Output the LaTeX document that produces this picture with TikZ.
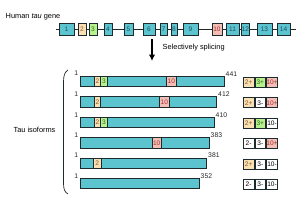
\documentclass[tikz,border=0pt]{standalone}
\usepackage{fontspec}
\setmainfont{Liberation Sans}
\usetikzlibrary{arrows.meta}
\definecolor{teal1}{HTML}{5BC4CF}
\definecolor{beige1}{HTML}{F9E0B5}
\definecolor{green1}{HTML}{B7F28F}
\definecolor{pink1}{HTML}{F4BDB5}
\definecolor{edge1}{HTML}{1E2B2E}
\definecolor{tealtxt}{HTML}{1D4E63}
\definecolor{beigetxt}{HTML}{8A5A20}
\definecolor{greentxt}{HTML}{2C6A10}
\definecolor{pinktxt}{HTML}{A03030}
\newcommand\bx[7]{\node[#6, minimum width={(#4-#2)*0.03cm}, minimum height={(#5-#3)*0.03cm}] (#1) at ({(#2+#4)/2},{(#3+#5)/2}) {#7};}
\begin{document}
\begin{tikzpicture}[x=0.03cm,y=-0.03cm,
  box/.style={draw=edge1, line width=0.7pt, inner sep=0pt, outer sep=0pt, font=\fontsize{5.6}{5.6}\selectfont},
  exT/.style={box, fill=teal1, text=tealtxt},
  exB/.style={box, fill=beige1, text=beigetxt},
  exG/.style={box, fill=green1, text=greentxt},
  exP/.style={box, fill=pink1, text=pinktxt},
  exW/.style={box, fill=white, text=black},
  bar/.style={box, fill=teal1},
  lbl/.style={inner sep=0pt, font=\fontsize{6.3}{7}\selectfont},
  num/.style={inner sep=0pt, font=\fontsize{5.8}{6}\selectfont, text=black!85}
]
\useasboundingbox (0,0) rectangle (300,204);
% gene
\node[lbl, anchor=west] (title) at (5.5,16.5) {Human \textit{tau} gene};
\coordinate (gs) at (56,29);
\coordinate (ge) at (296,29);
\draw[line width=0.7pt, edge1] (gs) -- (ge);
\bx{g1}{59}{23}{74}{35}{exT}{1}
\bx{g2}{78}{23}{86}{35}{exB}{2}
\bx{g3}{89}{23}{97}{35}{exG}{3}
\bx{g4}{104}{23}{112}{35}{exT}{4}
\bx{g5}{124}{23}{133}{35}{exT}{5}
\bx{g6}{143}{23}{155}{35}{exT}{6}
\bx{g7}{160}{23}{167}{35}{exT}{7}
\bx{g8}{171}{23}{177}{35}{exT}{8}
\bx{g9}{183}{23}{198}{35}{exT}{9}
\bx{g10}{212}{23}{222}{35}{exP}{10}
\bx{g11}{226}{23}{239}{35}{exT}{11}
\bx{g12}{242}{23}{249}{35}{exT}{12}
\bx{g13}{257}{23}{272}{35}{exT}{13}
\bx{g14}{277}{23}{290}{35}{exT}{14}
% arrow
\coordinate (as) at (152,39);
\coordinate (ae) at (152,61);
\draw[line width=1.2pt, -{Latex[length=5.5pt,width=5.5pt]}] (as) -- (ae);
\node[lbl, anchor=west] (splice) at (162.5,48) {Selectively splicing};
% bracket
\draw[line width=0.6pt, edge1] (68,70) .. controls (64.5,72) and (63.5,76) .. (63.5,82) -- (63.5,183) .. controls (63.5,189) and (64.5,192) .. (68,194);
\node[lbl] (iso) at (34.5,130) {Tau isoforms};
% isoforms
% 1: 441
\bx{b1}{80.7}{76}{224}{86.5}{bar}{}
\bx{b1e2}{94}{76}{100.7}{86.5}{exB}{2}
\bx{b1e3}{100.7}{76}{107.3}{86.5}{exG}{3}
\bx{b1e10}{166.7}{76}{176}{86.5}{exP}{10}
\node[num, anchor=east] (s1) at (78.3,73.5) {1};
\node[num, anchor=west] (t1) at (225.5,74) {441};
% 2: 412
\bx{b2}{80.7}{96.7}{216.7}{107.2}{bar}{}
\bx{b2e2}{94}{96.7}{100.7}{107.2}{exB}{2}
\bx{b2e10}{159.3}{96.7}{169.3}{107.2}{exP}{10}
\node[num, anchor=east] (s2) at (78.3,94.2) {1};
\node[num, anchor=west] (t2) at (218,94.5) {412};
% 3: 410
\bx{b3}{80.7}{117.3}{214.3}{127.8}{bar}{}
\bx{b3e2}{94}{117.3}{100.7}{127.8}{exB}{2}
\bx{b3e3}{100.7}{117.3}{107.3}{127.8}{exG}{3}
\node[num, anchor=east] (s3) at (78.3,114.8) {1};
\node[num, anchor=west] (t3) at (215.5,115) {410};
% 4: 383
\bx{b4}{80.7}{137.7}{209}{148.2}{bar}{}
\bx{b4e10}{152}{137.7}{161.3}{148.2}{exP}{10}
\node[num, anchor=east] (s4) at (78.3,135.2) {1};
\node[num, anchor=west] (t4) at (210.5,135.5) {383};
% 5: 381
\bx{b5}{80.7}{158}{206.7}{168.5}{bar}{}
\bx{b5e2}{93.5}{158}{101}{168.5}{exB}{2}
\node[num, anchor=east] (s5) at (78.3,155.5) {1};
\node[num, anchor=west] (t5) at (208,155.5) {381};
% 6: 352
\bx{b6}{80.7}{178.3}{199.3}{188.8}{bar}{}
\node[num, anchor=east] (s6) at (78.3,175.8) {1};
\node[num, anchor=west] (t6) at (200.5,176) {352};
% legend boxes
\bx{r1a}{243.3}{77.3}{254}{87.3}{exB}{2+}
\bx{r1b}{255.3}{77.3}{265.3}{87.3}{exG}{3+}
\bx{r1c}{266.3}{77.3}{277.7}{87.3}{exP}{10+}
\bx{r2a}{243.3}{97.8}{254}{107.8}{exB}{2+}
\bx{r2b}{255.3}{97.8}{265.3}{107.8}{exW}{3-}
\bx{r2c}{266.3}{97.8}{277.7}{107.8}{exP}{10+}
\bx{r3a}{243.3}{118.3}{254}{128.3}{exB}{2+}
\bx{r3b}{255.3}{118.3}{265.3}{128.3}{exG}{3+}
\bx{r3c}{266.3}{118.3}{277.7}{128.3}{exW}{10-}
\bx{r4a}{243.3}{138.7}{254}{148.7}{exW}{2-}
\bx{r4b}{255.3}{138.7}{265.3}{148.7}{exW}{3-}
\bx{r4c}{266.3}{138.7}{277.7}{148.7}{exP}{10+}
\bx{r5a}{243.3}{159}{254}{169}{exB}{2+}
\bx{r5b}{255.3}{159}{265.3}{169}{exW}{3-}
\bx{r5c}{266.3}{159}{277.7}{169}{exW}{10-}
\bx{r6a}{243.3}{179.3}{254}{189.3}{exW}{2-}
\bx{r6b}{255.3}{179.3}{265.3}{189.3}{exW}{3-}
\bx{r6c}{266.3}{179.3}{277.7}{189.3}{exW}{10-}
\end{tikzpicture}
\end{document}
